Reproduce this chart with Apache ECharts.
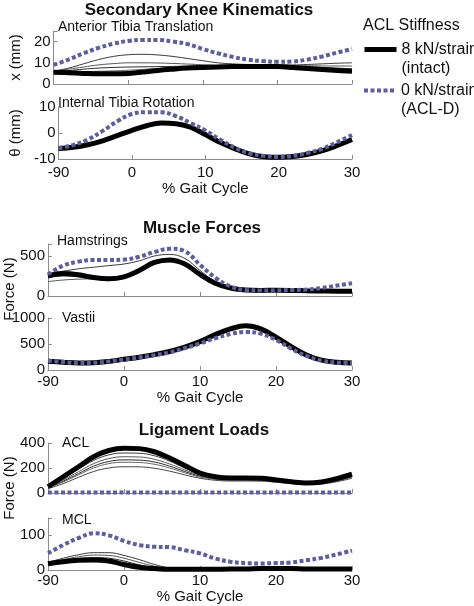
<!DOCTYPE html>
<html><head><meta charset="utf-8">
<script src="https://cdn.jsdelivr.net/npm/echarts@6/dist/echarts.min.js"></script>
<style>html,body{margin:0;padding:0;background:#fff}#c{width:474px;height:606px}</style>
</head><body><div id="c"></div><script>
// x samples (% gait cycle axis, first tick printed as "-90" in the source figure)
const xValues = [-10,-8,-6,-4,-2,0,2,4,6,8,10,12,14,16,18,20,22,24,26,28,30];
const xTickLabels = ['-90','0','10','20','30'];

// Anterior Tibia Translation (mm)
const att8 = [5.5,5.3,5.0,4.8,4.8,5.0,5.6,6.4,7.0,7.5,7.8,8.0,8.2,8.3,8.3,8.2,7.8,7.3,6.8,6.4,6.0];
const att0 = [9,11.5,14.5,17,19,20.3,20.8,20.8,20,18.8,16.5,14.5,12.8,11.5,10.8,10.5,10.6,11.5,13,14.8,16.5];
const attThinA = [6,7.5,9.5,11.5,13,13.8,14,13.7,13,12,11,10,9.5,9.2,9,9,9,9.2,9.5,9.8,10];
const attThinB = [6,7,8,9,9.6,10,10,9.9,9.7,9.4,9.1,8.9,8.8,8.8,8.8,8.8,8.7,8.6,8.5,8.5,8.5];
const attThinC = [5.8,6.3,7,7.5,7.8,8,8.1,8.2,8.3,8.4,8.5,8.6,8.6,8.7,8.7,8.6,8.4,8.1,7.8,7.5,7.2];
const attThinD = [5.6,5.7,5.8,6,6.2,6.5,6.9,7.3,7.6,7.9,8.1,8.3,8.4,8.5,8.5,8.4,8.1,7.7,7.3,7,6.7];

// Internal Tibia Rotation
const itr8 = [-6,-5.5,-4.5,-3,-1,1,2.8,3.8,3.6,2.2,-0.6,-3.6,-6,-8,-9.1,-9.3,-9,-8.2,-6.8,-4.8,-2.5];
const itr0 = [-5.8,-4.6,-2.5,0.8,4.5,7.3,8,8,6.5,3.8,1,-2.5,-5.6,-7.8,-8.8,-9.2,-8.8,-7.6,-6,-3.5,-0.8];
const itrThinA = [-5.7,-5.1,-4.0,-2.5,-0.5,1.5,3.2,4.0,3.8,2.4,-0.3,-3.3,-5.8,-7.8,-9.0,-9.2,-8.9,-8.0,-6.6,-4.6,-2.3];
const itrThinB = [-6.2,-5.8,-4.8,-3.3,-1.4,0.6,2.4,3.5,3.4,2.0,-0.9,-3.8,-6.2,-8.1,-9.2,-9.4,-9.1,-8.3,-6.9,-5.0,-2.7];

// Hamstrings force (N)
const ham8 = [250,280,265,230,215,240,320,420,450,400,270,160,100,75,70,72,70,65,62,60,60];
const ham0 = [270,380,430,450,450,455,490,550,590,560,390,230,120,75,70,70,75,80,100,130,160];
const hamThinA = [280,310,340,360,380,400,440,500,520,470,320,180,110,80,75,75,72,70,68,66,65];
const hamThinB = [180,200,210,215,215,250,330,420,440,390,260,150,95,75,72,75,72,68,65,62,62];
const hamThinC = [230,250,240,220,210,235,310,400,430,385,260,155,95,75,72,72,70,66,63,61,60];

// Vastii force (N)
const vas8 = [170,150,135,140,165,205,245,295,355,440,545,680,790,850,790,630,450,290,190,150,135];
const vas0 = [180,155,135,140,165,200,240,285,340,420,510,610,690,730,700,580,410,270,180,145,135];
const vasThinA = [165,145,130,140,170,215,260,310,360,440,540,670,780,840,790,640,460,300,195,150,135];
const vasThinB = [175,150,132,135,160,195,230,275,330,410,520,660,770,830,785,635,455,295,192,150,135];

// ACL load (N)
const acl8 = [50,130,210,290,340,358,355,330,280,220,160,130,120,120,118,105,90,80,88,115,150];
const acl0 = [5,5,5,5,5,5,5,5,5,5,5,5,5,5,5,5,5,5,5,5,5];
const aclThinA = [45,115,190,260,305,320,318,298,255,200,150,125,115,115,113,100,86,77,82,106,142];
const aclThinB = [45,105,170,235,275,290,288,270,232,185,142,120,112,112,110,97,84,75,80,102,137];
const aclThinC = [40,95,155,215,252,265,263,248,215,172,135,115,108,108,106,94,82,73,78,99,132];
const aclThinD = [40,88,145,200,235,246,244,230,200,162,128,110,104,104,102,91,80,71,76,96,127];
const aclThinE = [35,75,125,172,200,210,209,198,175,145,118,102,96,96,95,86,76,68,72,90,118];

// MCL load (N)
const mcl8 = [18,24,28,29,26,16,8,4,2,2,2,2,3,3,4,4,4,3,3,3,3];
const mcl0 = [48,72,92,106,100,84,72,67,66,57,48,33,24,20,19,20,22,28,35,45,56];
const mclThinA = [22,34,44,50,50,42,30,16,6,3,2,2,3,3,4,4,4,3,3,3,3];
const mclThinB = [20,30,38,43,42,34,22,11,4,2,2,2,3,3,4,4,4,3,3,3,3];
const mclThinC = [19,27,33,36,34,26,15,7,3,2,2,2,3,3,4,4,4,3,3,3,3];

const NAME8 = '8 kN/strain\n(intact)';
const NAME0 = '0 kN/strain\n(ACL-D)';
const FONT = 'Liberation Sans, Arial, sans-serif';
const AXIS_COLOR = '#8c8c8c';
const DOT_COLOR = '#5e5e98';
const thinColors = ['#3a3a3a','#555555','#2a2a2a','#666666','#444444'];

const pair = arr => arr.map((v, i) => [xValues[i], v]);

const panels = [
  {top: 31, height: 53, min: 0, max: 25, interval: 10, ticks: [0,10,20], thick: att8, dotted: att0, thin: [attThinA, attThinB, attThinC, attThinD], labels: false, yName: 'x (mm)'},
  {top: 107, height: 52, min: -10, max: 10, interval: 10, ticks: [-10,0,10], thick: itr8, dotted: itr0, thin: [itrThinA, itrThinB], labels: true, yName: 'θ (mm)', xNameGap: 22, xMargin: 6},
  {top: 244, height: 52, min: 0, max: 650, interval: 500, ticks: [0,500], thick: ham8, dotted: ham0, thin: [hamThinA, hamThinB, hamThinC], labels: false},
  {top: 318, height: 52, min: 0, max: 1000, interval: 500, ticks: [0,500,1000], thick: vas8, dotted: vas0, thin: [vasThinA, vasThinB], labels: true, xNameGap: 14, xMargin: 4},
  {top: 443, height: 50, min: 0, max: 400, interval: 200, ticks: [0,200,400], thick: acl8, dotted: acl0, thin: [aclThinA, aclThinB, aclThinC, aclThinD, aclThinE], labels: false},
  {top: 518, height: 52, min: 0, max: 150, interval: 100, ticks: [0,100], thick: mcl8, dotted: mcl0, thin: [mclThinA, mclThinB, mclThinC], labels: true, xNameGap: 10, xMargin: 3}
];

const grid = [], xAxis = [], yAxis = [], series = [];
panels.forEach((p, gi) => {
  grid.push({left: 48, top: p.top, width: 304, height: p.height});
  xAxis.push({
    type: 'value', gridIndex: gi, min: -10, max: 30, interval: 10,
    axisLine: {show: true, onZero: false, lineStyle: {color: AXIS_COLOR, width: 1}},
    axisTick: {show: true, inside: true, length: 4, lineStyle: {color: AXIS_COLOR}},
    splitLine: {show: false},
    axisLabel: {show: p.labels, margin: p.xMargin || 3, color: '#111', fontSize: 15, fontFamily: FONT,
      formatter: v => xTickLabels[Math.round((v + 10) / 10)]},
    name: p.labels ? '% Gait Cycle' : '', nameLocation: 'middle', nameGap: p.xNameGap || 15,
    nameTextStyle: {color: '#111', fontSize: 15, fontFamily: FONT}
  });
  yAxis.push({
    type: 'value', gridIndex: gi, min: p.min, max: p.max, interval: p.interval,
    axisLine: {show: true, onZero: false, lineStyle: {color: AXIS_COLOR, width: 1}},
    axisTick: {show: true, inside: true, length: 4, lineStyle: {color: AXIS_COLOR}},
    splitLine: {show: false},
    axisLabel: {margin: 3, color: '#111', fontSize: 15, fontFamily: FONT,
      formatter: v => p.ticks.includes(v) ? String(v) : ''},
    name: p.yName || '', nameLocation: 'middle', nameGap: 28, nameRotate: 90,
    nameTextStyle: {color: '#111', fontSize: 15, fontFamily: FONT}
  });
  p.thin.forEach((arr, k) => series.push({
    type: 'line', name: 'intermediate stiffness', xAxisIndex: gi, yAxisIndex: gi,
    data: pair(arr), smooth: 0.4, symbol: 'none', silent: true, z: 2,
    lineStyle: {color: thinColors[k % thinColors.length], width: 1}
  }));
  series.push({
    type: 'line', name: NAME8, xAxisIndex: gi, yAxisIndex: gi,
    data: pair(p.thick), smooth: 0.4, symbol: 'none', z: 3,
    itemStyle: {color: '#000'},
    lineStyle: {color: '#000', width: 5}
  });
  series.push({
    type: 'line', name: NAME0, xAxisIndex: gi, yAxisIndex: gi,
    data: pair(p.dotted), smooth: 0.4, symbol: 'none', z: 4,
    itemStyle: {color: DOT_COLOR},
    lineStyle: {color: DOT_COLOR, width: 4, type: [4, 2.5], cap: 'butt'}
  });
});

const titleStyle = (text, left, top, size, bold, align) => ({
  text, left, top, padding: 0, textAlign: align || 'left',
  textStyle: {fontSize: size, fontWeight: bold ? 'bold' : 'normal', color: '#111', fontFamily: FONT}
});

const legendCommon = {
  orient: 'vertical', left: 362, padding: 0, itemWidth: 32, itemHeight: 14, itemGap: 0,
  selectedMode: false,
  itemStyle: {opacity: 0},
  formatter: name => '\n' + name,
  textStyle: {fontSize: 16, lineHeight: 19, color: '#111', fontFamily: FONT}
};

const chart = echarts.init(document.getElementById('c'), null, {renderer: 'canvas'});
chart.setOption({
  backgroundColor: '#fff',
  animation: false,
  title: [
    titleStyle('Secondary Knee Kinematics', 199, 2, 17, true, 'center'),
    titleStyle('Anterior Tibia Translation', 58, 20, 14),
    titleStyle('Internal Tibia Rotation', 58, 96, 14),
    titleStyle('Muscle Forces', 202, 220, 17, true, 'center'),
    titleStyle('Hamstrings', 57, 234, 14),
    titleStyle('Vastii', 62, 311, 14),
    titleStyle('Ligament Loads', 204, 422, 17, true, 'center'),
    titleStyle('ACL', 62, 436, 14),
    titleStyle('MCL', 62, 513, 14),
    titleStyle('ACL Stiffness', 363, 18, 16)
  ],
  legend: [
    Object.assign({}, legendCommon, {top: 21, data: [NAME8],
      lineStyle: {color: '#000', width: 5, type: 'solid'}}),
    Object.assign({}, legendCommon, {top: 62, data: [NAME0],
      lineStyle: {color: DOT_COLOR, width: 4, type: [4, 2.5], cap: 'butt'}})
  ],
  graphic: [
    {type: 'text', x: 10, y: 289, rotation: Math.PI / 2,
      style: {text: 'Force (N)', fontSize: 15, fontFamily: FONT, fill: '#111', align: 'center', verticalAlign: 'middle'}},
    {type: 'text', x: 10, y: 488, rotation: Math.PI / 2,
      style: {text: 'Force (N)', fontSize: 15, fontFamily: FONT, fill: '#111', align: 'center', verticalAlign: 'middle'}}
  ],
  grid, xAxis, yAxis, series
});
</script></body></html>
